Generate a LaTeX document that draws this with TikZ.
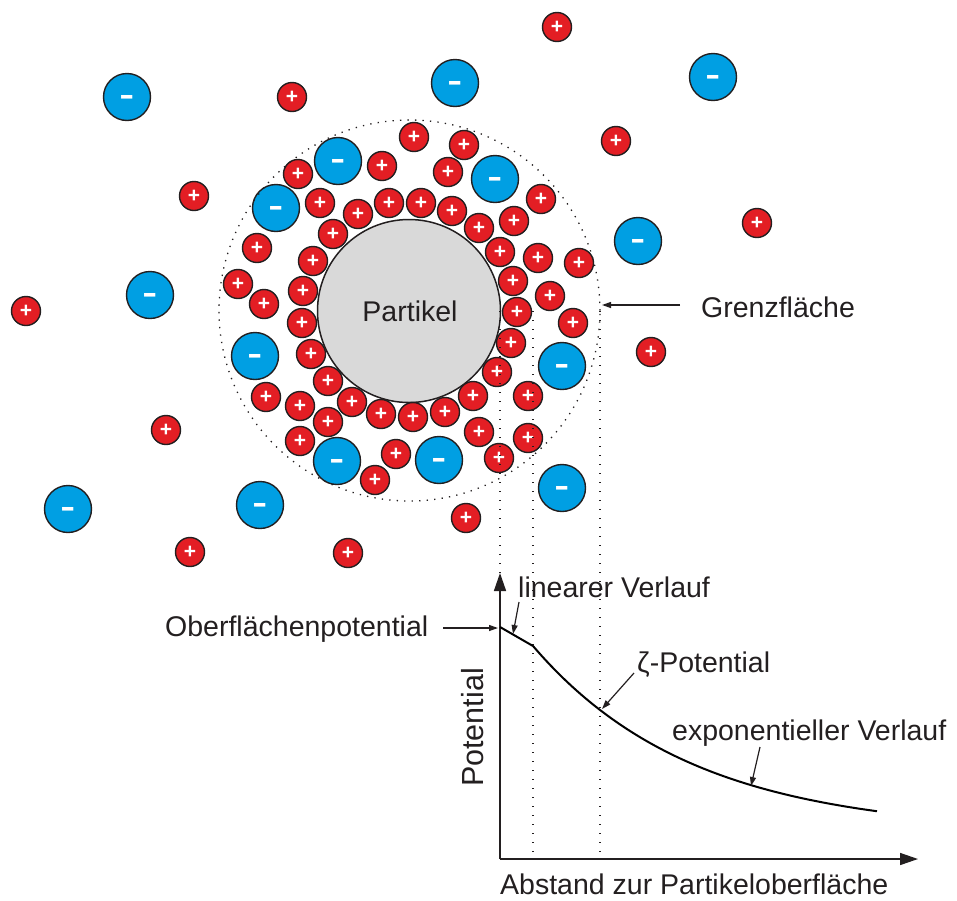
\documentclass[tikz,border=0pt]{standalone}
\usepackage{fontspec}
\setmainfont{Liberation Sans}
\usetikzlibrary{arrows.meta}
\definecolor{ionred}{HTML}{E31E24}
\definecolor{ionblue}{HTML}{009FE3}
\definecolor{partgray}{HTML}{D9D9D9}
\definecolor{ink}{HTML}{231F20}
\begin{document}
\begin{tikzpicture}[x=1pt,y=-1pt,
  cation/.style={circle, draw=ink, line width=1.4pt, fill=ionred, minimum size=29pt, inner sep=0pt,
    text=white, font=\bfseries\fontsize{21}{21}\selectfont, text height=13.2pt, text depth=0pt},
  anion/.style={circle, draw=ink, line width=1.4pt, fill=ionblue, minimum size=47pt, inner sep=0pt,
    text=white, font=\fontsize{46}{46}\selectfont, text height=25pt, text depth=0pt},
  partstyle/.style={circle, draw=ink, line width=1.5pt, fill=partgray, minimum size=183pt, inner sep=0pt,
    text=ink, font=\fontsize{28.5}{34}\selectfont},
  dotline/.style={draw=ink, line width=1.3pt, dash pattern=on 1.3pt off 7.7pt},
  dotcirc/.style={circle, draw=ink, line width=1.3pt, dash pattern=on 1.3pt off 6.2pt, minimum size=381pt, inner sep=0pt},
  lbl/.style={text=ink, font=\fontsize{28.5}{34}\selectfont, inner sep=0pt},
  ptr/.style={draw=ink, line width=1.2pt, -{Triangle[length=9pt,width=6pt]}},
  axis/.style={draw=ink, line width=1.5pt, -{Triangle[length=18pt,width=12pt]}},
  curve/.style={draw=black, line width=2pt, line join=round}
]
\useasboundingbox (0,0) rectangle (957,900);

% particle
\node[partstyle] (particle) at (409,311) {};
\node[lbl, anchor=base] (ptext) at (410,321) {Partikel};

% cations
\foreach \n/\px/\py in {
 1/557/27, 2/292/97, 3/194/196, 4/616/141, 5/757/223, 6/26/311, 7/651/352, 8/166/430, 9/466/518, 10/190/552, 11/348/553,
 12/298/174, 13/382/166, 14/320/203, 15/358/214, 16/389/203, 17/333/234, 18/257/248, 19/313/261, 20/238/284, 21/303/291, 22/264/304,
 23/414/137, 24/464/145, 25/448/172, 26/421/203, 27/452/211, 28/479/228, 29/541/199, 30/514/221, 31/500/252, 32/538/258, 33/579/263, 34/513/281, 35/550/296,
 36/302/323, 37/311/354, 38/328/381, 39/266/397, 40/352/402, 41/300/406, 42/328/422, 43/381/414, 44/300/441, 45/396/454, 46/375/480,
 47/517/312, 48/573/323, 49/511/343, 50/497/372, 51/528/396, 52/473/396, 53/445/412, 54/413/417, 55/479/432, 56/528/438, 57/499/458}
 {\node[cation] (r\n) at (\px,\py) {+};}

% anions
\foreach \n/\px/\py in {
 1/127/97, 2/455/83, 3/713/77, 4/338/161, 5/276/208, 6/495/179, 7/150/295, 8/638/241,
 9/255/356, 10/562/366, 11/337/461, 12/439/460, 13/562/488, 14/68/509, 15/260/505}
 {\node[anion] (b\n) at (\px,\py) {-};}

% boundary (Grenzflaeche)
\node[dotcirc] (boundary) at (409.5,310.5) {};

% graph coordinates
\coordinate (O) at (500,859);
\coordinate (Ytip) at (500,573);
\coordinate (Xtip) at (918,859);
\coordinate (S0) at (500,627);
\coordinate (S1) at (533,646);

% vertical dotted guide lines
\coordinate (d1t) at (500,311); \coordinate (d1b) at (500,859);
\coordinate (d2t) at (533,311); \coordinate (d2b) at (533,859);
\coordinate (d3t) at (600,311); \coordinate (d3b) at (600,859);
\draw[dotline] (d1t) -- (d1b);
\draw[dotline] (d2t) -- (d2b);
\draw[dotline] (d3t) -- (d3b);

% axes
\draw[axis] (O) -- (Ytip);
\draw[axis] (O) -- (Xtip);

% potential curve
\draw[curve] (S0) -- (S1) -- plot[domain=533:877, samples=80] (\x, {833-187*exp(-(\x-533)/160)});

% labels
\node[lbl, anchor=base west] (grenz) at (701,317) {Grenzfläche};
\node[lbl, anchor=base west] (obpot) at (165,636) {Oberflächenpotential};
\node[lbl, anchor=base west] (linv) at (518,597) {linearer Verlauf};
\node[lbl, anchor=base west] (zeta) at (637,672) {ζ-Potential};
\node[lbl, anchor=base west] (expv) at (672,740) {exponentieller Verlauf};
\node[lbl, anchor=base west] (xlab) at (500,894.5) {Abstand zur Partikeloberfläche};
\node[lbl, anchor=base west, rotate=90, font=\fontsize{30.5}{36}\selectfont] (ylab) at (483,787) {Potential};

% pointer arrows
\coordinate (gA) at (680,305); \coordinate (gB) at (602,305);
\coordinate (oA) at (443,628); \coordinate (oB) at (498,628);
\coordinate (lA) at (519,602); \coordinate (lB) at (513,634);
\coordinate (zA) at (634,673); \coordinate (zB) at (602,709);
\coordinate (eA) at (760,747); \coordinate (eB) at (751,786);
\draw[ptr] (gA) -- (gB);
\draw[ptr] (oA) -- (oB);
\draw[ptr] (lA) -- (lB);
\draw[ptr] (zA) -- (zB);
\draw[ptr] (eA) -- (eB);
\end{tikzpicture}
\end{document}
